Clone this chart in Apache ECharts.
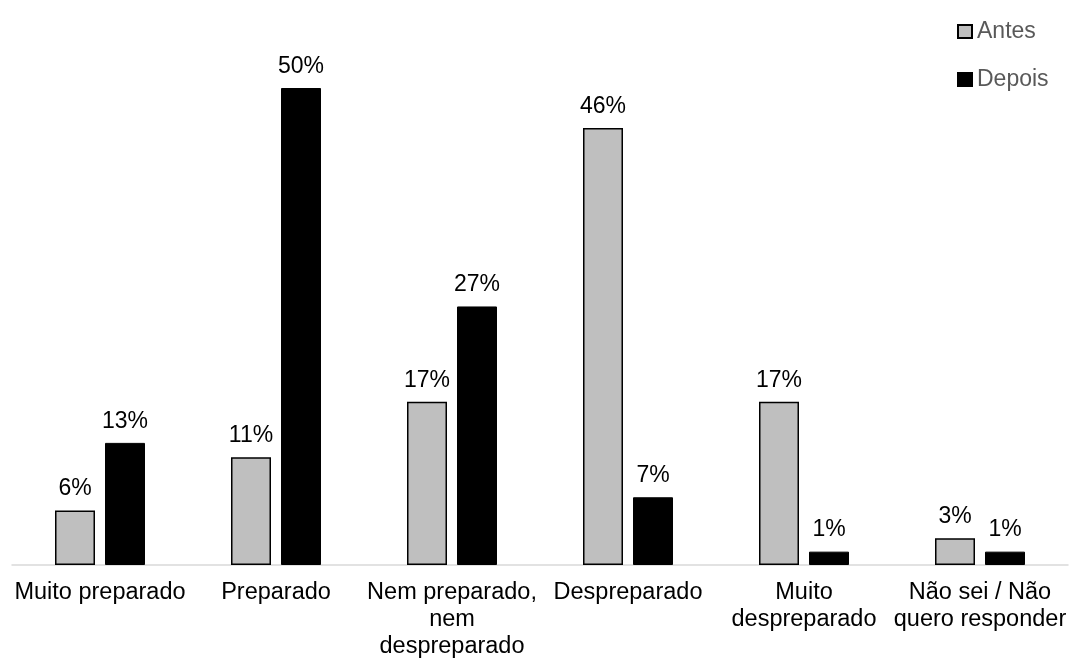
<!DOCTYPE html>
<html>
<head>
<meta charset="utf-8">
<script src="https://cdn.jsdelivr.net/npm/echarts@6/dist/echarts.min.js"></script>
<style>html,body{margin:0;padding:0;background:#fff;}#c{width:1071px;height:661px;}</style>
</head>
<body>
<div id="c"></div>
<script>
const categories = ['Muito preparado', 'Preparado', 'Nem preparado,\nnem\ndespreparado', 'Despreparado', 'Muito\ndespreparado', 'Não sei / Não\nquero responder'];
const antes = [5.7, 11.3, 17.1, 45.8, 17.1, 2.8];
const depois = [12.8, 50, 27.1, 7.1, 1.4, 1.4];
const seriesNames = ['Antes', 'Depois'];

const font = 'Liberation Sans, Arial, sans-serif';
const chart = echarts.init(document.getElementById('c'));
const labelCfg = {
  show: true, position: 'top', distance: 10,
  color: '#000', fontSize: 23, fontFamily: font,
  formatter: p => Math.round(p.value) + '%'
};
chart.setOption({
  animation: false,
  backgroundColor: '#fff',
  grid: { left: 12, right: 3, top: 88, bottom: 96, containLabel: false },
  legend: {
    orient: 'vertical', left: 952, top: 14,
    itemWidth: 14, itemHeight: 13, itemGap: 23,
    icon: 'rect',
    textStyle: { color: '#595959', fontSize: 23, fontFamily: font, lineHeight: 25 },
    data: seriesNames
  },
  xAxis: {
    type: 'category', data: categories,
    axisLine: { lineStyle: { color: '#d9d9d9', width: 1.5 } },
    axisTick: { show: false },
    axisLabel: { interval: 0, color: '#000', fontSize: 23.5, fontFamily: font, lineHeight: 27, margin: 14 }
  },
  yAxis: { type: 'value', min: 0, max: 50, show: false, splitLine: { show: false } },
  series: [
    { name: seriesNames[0], type: 'bar', data: antes, barWidth: 40, barGap: '25%',
      itemStyle: { color: '#bfbfbf', borderColor: '#000', borderWidth: 1.5 }, label: labelCfg },
    { name: seriesNames[1], type: 'bar', data: depois, barWidth: 40, barGap: '25%',
      itemStyle: { color: '#000', borderColor: '#000', borderWidth: 1 }, label: labelCfg }
  ]
});
</script>
</body>
</html>
